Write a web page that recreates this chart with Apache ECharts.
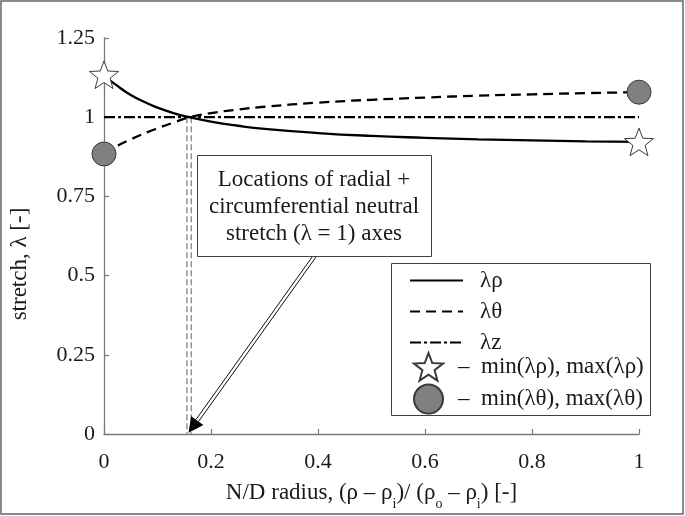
<!DOCTYPE html>
<html><head><meta charset="utf-8">
<script src="https://cdn.jsdelivr.net/npm/echarts@6/dist/echarts.min.js"></script>
<style>html,body{margin:0;padding:0;background:#fff}#c{width:685px;height:516px}</style>
</head><body><div id="c"></div>
<script>
// ---- data ----
const radius      = [0, 0.02, 0.05, 0.08, 0.1, 0.13, 0.16, 0.2, 0.25, 0.3, 0.4, 0.5, 0.6, 0.7, 0.8, 0.9, 1.0];
const lambdaRho   = [1.13, 1.105, 1.07, 1.045, 1.03, 1.013, 1.0, 0.986, 0.973, 0.963, 0.95, 0.941, 0.935, 0.93, 0.927, 0.924, 0.922];
const lambdaTheta = [0.884, 0.905, 0.93, 0.952, 0.965, 0.983, 1.0, 1.013, 1.024, 1.033, 1.046, 1.055, 1.062, 1.068, 1.072, 1.076, 1.079];
const zX = [0, 1];
const lambdaZ = [1, 1];
const starX = [0, 1];
const starY = [1.134, 0.922];
const circX = [0, 1];
const circY = [0.884, 1.079];
const neutralX = [0.155, 0.163];
const neutralY = [1, 0];
const arrowFrom = [0.394, 0.562];
const arrowTo = [0.158, 0.004];
const xTickLabels = ['0', '0.2', '0.4', '0.6', '0.8', '1'];
const yTickLabels = ['0', '0.25', '0.5', '0.75', '1', '1.25'];
const seriesNames = ['λρ', 'λθ', 'λz', 'min(λρ), max(λρ)', 'min(λθ), max(λθ)'];
const noteLines = ['Locations of radial +', 'circumferential neutral', 'stretch (λ = 1) axes'];

const FONT = '"Liberation Serif", "Times New Roman", serif';
const TXT = '#1a1a1a';
const FS = 23;

function starPath(inner) {
  const pts = [];
  for (let i = 0; i < 10; i++) {
    const r = i % 2 === 0 ? 1 : inner;
    const a = -Math.PI / 2 + i * Math.PI / 5;
    pts.push((50 + 50 * r * Math.cos(a)).toFixed(2) + ' ' + (52 + 50 * r * Math.sin(a)).toFixed(2));
  }
  return 'path://M' + pts.join(' L') + ' Z';
}
const STAR = starPath(0.42);

const pair = (xs, ys) => xs.map((x, i) => [x, ys[i]]);

const chart = echarts.init(document.getElementById('c'), null, {renderer: 'canvas'});
chart.setOption({
  animation: false,
  backgroundColor: '#fff',
  grid: {left: 104, right: 46, top: 38, bottom: 78, containLabel: false},
  xAxis: {
    type: 'value', min: 0, max: 1, interval: 0.2,
    name: '{t|N/D radius, (ρ – ρ}{s|i}{t|)/ (ρ}{s|o}{t| – ρ}{s|i}{t|) [-]}',
    nameLocation: 'middle', nameGap: 47,
    nameTextStyle: {rich: {
      t: {fontFamily: FONT, fontSize: FS, color: TXT},
      s: {fontFamily: FONT, fontSize: 14, color: TXT, verticalAlign: 'bottom', padding: [0, 0, -7, 0]}
    }},
    axisLine: {show: true, lineStyle: {color: '#7a7a7a', width: 1.3}},
    axisTick: {show: true, inside: true, length: 5, lineStyle: {color: '#7a7a7a', width: 1.2}},
    axisLabel: {margin: 17, fontFamily: FONT, fontSize: 22, color: TXT,
      formatter: (v) => xTickLabels[Math.round(v / 0.2)]},
    splitLine: {show: false}
  },
  yAxis: {
    type: 'value', min: 0, max: 1.25, interval: 0.25,
    axisLine: {show: true, lineStyle: {color: '#7a7a7a', width: 1.3}},
    axisTick: {show: true, inside: true, length: 5, lineStyle: {color: '#7a7a7a', width: 1.2}},
    axisLabel: {margin: 9, fontFamily: FONT, fontSize: 22, color: TXT,
      formatter: (v) => yTickLabels[Math.round(v / 0.25)]},
    splitLine: {show: false}
  },
  legend: [{
    data: seriesNames.slice(0, 3), orient: 'vertical', left: 409, top: 269, padding: 0,
    itemWidth: 53, itemHeight: 20, itemGap: 8, selectedMode: false,
    itemStyle: {color: 'rgba(0,0,0,0)', borderColor: 'rgba(0,0,0,0)', borderWidth: 0},
    textStyle: {fontFamily: FONT, fontSize: FS, color: TXT, lineHeight: 20, padding: [0, 0, 0, 12]}
  }, {
    data: seriesNames.slice(3), orient: 'vertical', left: 413, top: 352, padding: 0,
    itemWidth: 29, itemHeight: 29, itemGap: 2, selectedMode: false,
    formatter: (n) => '–  ' + n,
    textStyle: {fontFamily: FONT, fontSize: FS, color: TXT, lineHeight: 29, padding: [0, 0, 0, 10]}
  }],
  graphic: [
    {type: 'rect', shape: {x: 1, y: 1, width: 682, height: 513}, style: {fill: 'none', stroke: '#666', lineWidth: 1.5}, silent: true},
    {type: 'rect', shape: {x: 391.5, y: 263.5, width: 259, height: 152}, style: {fill: 'none', stroke: '#404040', lineWidth: 1}, z: -1, silent: true},
    {type: 'rect', shape: {x: 197.5, y: 155.5, width: 234, height: 101}, style: {fill: '#fff', stroke: '#404040', lineWidth: 1}, z: 100, silent: true},
    {type: 'text', x: 314, y: 180, z: 101, style: {text: noteLines[0], font: FS + 'px ' + FONT, fill: TXT, align: 'center', verticalAlign: 'middle'}},
    {type: 'text', x: 314, y: 207, z: 101, style: {text: noteLines[1], font: FS + 'px ' + FONT, fill: TXT, align: 'center', verticalAlign: 'middle'}},
    {type: 'text', x: 314, y: 234, z: 101, style: {text: noteLines[2], font: FS + 'px ' + FONT, fill: TXT, align: 'center', verticalAlign: 'middle'}},
    {type: 'text', x: 20, y: 264, rotation: Math.PI / 2, style: {text: 'stretch, λ [-]', font: FS + 'px ' + FONT, fill: TXT, align: 'center', verticalAlign: 'middle'}}
  ],
  series: [
    {name: 'neutral1', type: 'line', data: [[neutralX[0], neutralY[0]], [neutralX[0], neutralY[1]]], symbol: 'none',
      lineStyle: {color: '#808080', width: 1.3, type: [6, 3]}, z: 1, silent: true},
    {name: 'neutral2', type: 'line', data: [[neutralX[1], neutralY[0]], [neutralX[1], neutralY[1]]], symbol: 'none',
      lineStyle: {color: '#808080', width: 1.3, type: [6, 3]}, z: 1, silent: true},
    {name: seriesNames[0], type: 'line', data: pair(radius, lambdaRho), smooth: true, symbol: 'none',
      lineStyle: {color: '#000', width: 2.3, type: 'solid'}, itemStyle: {color: '#000'}, z: 3},
    {name: seriesNames[1], type: 'line', data: pair(radius, lambdaTheta), smooth: true, symbol: 'none',
      lineStyle: {color: '#000', width: 2.3, type: [10, 6]}, itemStyle: {color: '#000'}, z: 3},
    {name: seriesNames[2], type: 'line', data: pair(zX, lambdaZ), symbol: 'none',
      lineStyle: {color: '#000', width: 2.3, type: [11, 3, 3, 3]}, itemStyle: {color: '#000'}, z: 3},
    {name: seriesNames[3], type: 'scatter', data: pair(starX, starY), symbol: STAR, symbolSize: 29, symbolKeepAspect: true,
      itemStyle: {color: '#fff', borderColor: '#3a3a3a', borderWidth: 1, opacity: 1}, z: 5},
    {name: seriesNames[4], type: 'scatter', data: pair(circX, circY), symbol: 'circle', symbolSize: 24,
      itemStyle: {color: '#808080', borderColor: '#3a3a3a', borderWidth: 1, opacity: 1}, z: 5},
    {name: 'arrow', type: 'custom', data: [[arrowFrom[0], arrowFrom[1], arrowTo[0], arrowTo[1]]], z: 6, silent: true,
      renderItem: (params, api) => {
        const p0 = api.coord([api.value(0), api.value(1)]);
        const p1 = api.coord([api.value(2), api.value(3)]);
        const dx = p1[0] - p0[0], dy = p1[1] - p0[1], L = Math.hypot(dx, dy);
        const ux = dx / L, uy = dy / L, nx = -uy, ny = ux;
        const head = 15, hw = 7.5, off = 1.6;
        const bx = p1[0] - ux * head, by = p1[1] - uy * head;
        const st = {stroke: '#111', lineWidth: 1};
        return {type: 'group', children: [
          {type: 'line', shape: {x1: p0[0] + nx * off, y1: p0[1] + ny * off, x2: bx + nx * off, y2: by + ny * off}, style: st},
          {type: 'line', shape: {x1: p0[0] - nx * off, y1: p0[1] - ny * off, x2: bx - nx * off, y2: by - ny * off}, style: st},
          {type: 'polygon', shape: {points: [[p1[0], p1[1]], [bx + nx * hw, by + ny * hw], [bx - nx * hw, by - ny * hw]]}, style: {fill: '#000'}}
        ]};
      }}
  ]
});
</script>
</body></html>
